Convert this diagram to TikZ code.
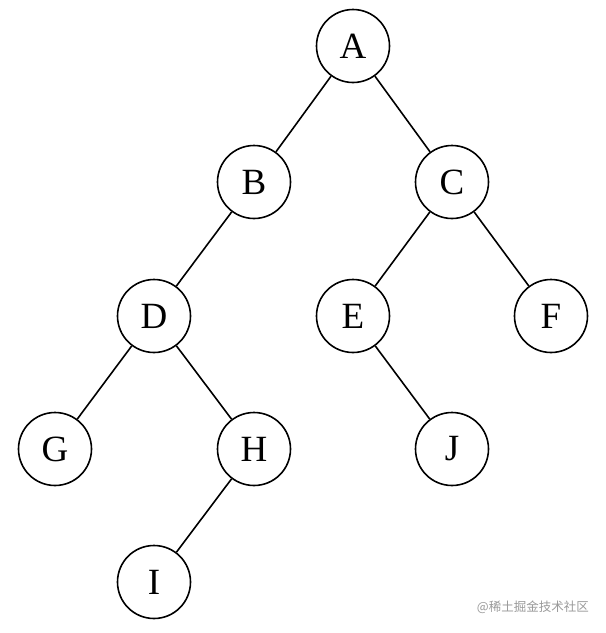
\documentclass[tikz,border=0pt]{standalone}
\usepackage{fontspec}
\setmainfont{Liberation Serif}
\newfontfamily\cjk{Noto Sans CJK SC}
\begin{document}
\begin{tikzpicture}[x=1pt,y=-1pt,
  tnode/.style={circle,draw,line width=1.6pt,minimum size=73pt,inner sep=0pt,font=\fontsize{37}{40}\selectfont},
  tedge/.style={line width=1.6pt}]
\useasboundingbox (0,0) rectangle (606,633);
\node[tnode] (A) at (353,46) {A};
\node[tnode] (B) at (254,182) {B};
\node[tnode] (C) at (452,182) {C};
\node[tnode] (D) at (154,316) {D};
\node[tnode] (E) at (353,316) {E};
\node[tnode] (F) at (551,316) {F};
\node[tnode] (G) at (55,449) {G};
\node[tnode] (H) at (254,449) {H};
\node[tnode] (J) at (452,449) {J};
\node[tnode] (I) at (154,582) {I};
\draw[tedge] (A) -- (B);
\draw[tedge] (A) -- (C);
\draw[tedge] (B) -- (D);
\draw[tedge] (C) -- (E);
\draw[tedge] (C) -- (F);
\draw[tedge] (D) -- (G);
\draw[tedge] (D) -- (H);
\draw[tedge] (E) -- (J);
\draw[tedge] (H) -- (I);
\node[anchor=east,text=black!40,font=\cjk\fontsize{12.5}{14}\selectfont,inner sep=0pt] (wm) at (589,607) {@稀土掘金技术社区};
\end{tikzpicture}
\end{document}
